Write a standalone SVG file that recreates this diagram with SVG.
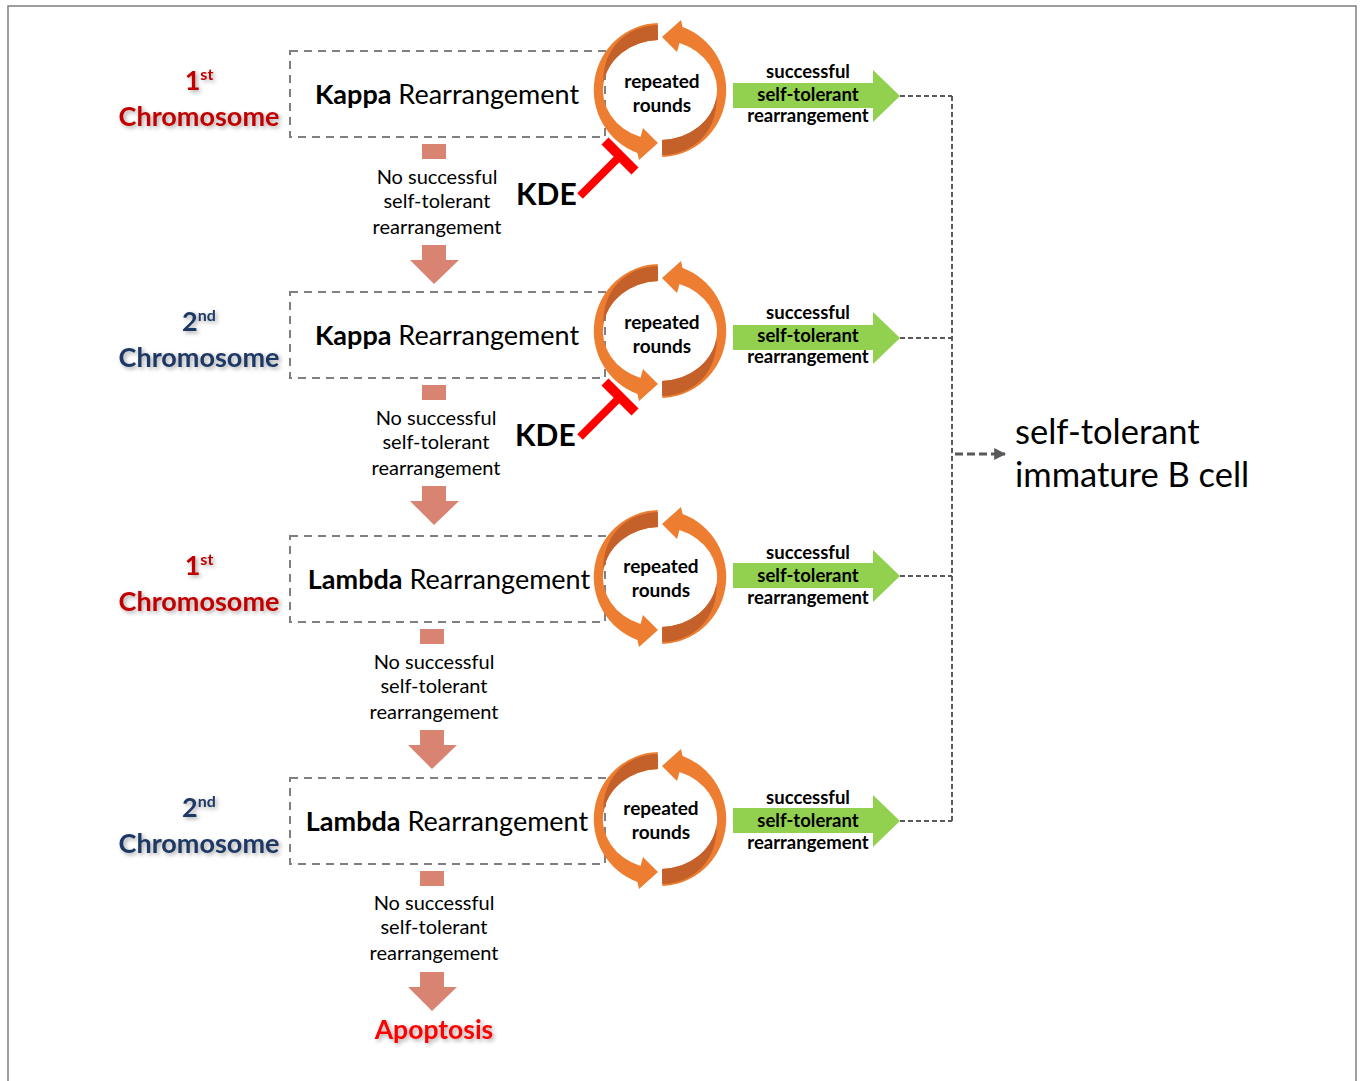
<svg xmlns="http://www.w3.org/2000/svg" xmlns:xlink="http://www.w3.org/1999/xlink" width="1360" height="1081" viewBox="0 0 1360 1081">
<style>
.box{fill:#fff;stroke:#808080;stroke-width:2;stroke-dasharray:8 6}
.chrR{font-family:Lato,"Liberation Sans",sans-serif;font-weight:bold;fill:#C00000}
.chrB{font-family:Lato,"Liberation Sans",sans-serif;font-weight:bold;fill:#1F3864}
.rear{font-family:Lato,"Liberation Sans",sans-serif;font-size:27px;fill:#000;text-anchor:middle}
.rep{font-family:Lato,"Liberation Sans",sans-serif;font-weight:bold;font-size:19px;fill:#000;text-anchor:middle}
.succ{font-family:Lato,"Liberation Sans",sans-serif;font-weight:bold;font-size:18.5px;fill:#000;text-anchor:middle}
.nos{font-family:Lato,"Liberation Sans",sans-serif;font-size:20px;fill:#000;text-anchor:middle}
.kde{font-family:Lato,"Liberation Sans",sans-serif;font-weight:bold;font-size:30px;fill:#000}
.pink{fill:#D98473}
.green{fill:#92D050}
.dash{fill:none;stroke:#595959;stroke-width:2;stroke-dasharray:5 3}
.inh{stroke:#FF0000;fill:none}
</style>
<defs>
<filter id="sh" x="-20%" y="-20%" width="140%" height="160%">
<feDropShadow dx="2" dy="2" stdDeviation="2" flood-color="#000" flood-opacity="0.35"/>
</filter>
<g id="half">
<path fill="#ED7D31" d="M2.3,67 A66 67 0 0 0 22.6,-63 L21,-70 L2,-53 L17,-38 L19.5,-47 A57 50 0 0 1 2,50 Z"/>
<path fill="#C4602A" d="M2,50 L2.2,65 C35,64 58,40 56.6,5.9 A57 50 0 0 1 2,50 Z"/>
</g>
<g id="cyc">
<use xlink:href="#half"/>
<use xlink:href="#half" transform="rotate(180)"/>
</g>
<path id="garr" class="green" d="M-167,-13 H-27 V-26 L0,0 L-27,26 V12 H-167 Z"/>
<g id="parr">
<rect class="pink" x="-12" y="50" width="24" height="15"/>
<path class="pink" d="M-12,151 H12 V166 H25 L0,190 L-24,166 H-12 Z"/>
</g>
<marker id="ah" viewBox="0 0 10 10" refX="9" refY="5" markerWidth="4" markerHeight="4" orient="auto" markerUnits="strokeWidth">
<path d="M0,0 L10,5 L0,10 Z" fill="#595959"/>
</marker>
</defs>
<rect x="8" y="6" width="1348" height="1100" fill="#fff" stroke="#7F7F7F" stroke-width="1.5"/>

<g id="connectors">
<path class="dash" d="M900,96 H952 M900,338 H952 M900,576 H952 M900,821 H952 M952,96 V821"/>
<line x1="955" y1="454" x2="1005" y2="454" stroke="#595959" stroke-width="3" stroke-dasharray="8 4" marker-end="url(#ah)"/>
<use xlink:href="#parr" transform="translate(434,94)"/>
<use xlink:href="#parr" transform="translate(434,335)"/>
<use xlink:href="#parr" transform="translate(432,579)"/>
<use xlink:href="#parr" transform="translate(432,821)"/>
<g id="kde1-inh" class="inh">
<line x1="580" y1="196" x2="620" y2="156" stroke-width="8"/>
<line x1="605" y1="141" x2="635" y2="171" stroke-width="10"/>
</g>
<g id="kde2-inh" class="inh">
<line x1="580" y1="437" x2="620" y2="397" stroke-width="8"/>
<line x1="605" y1="382" x2="635" y2="412" stroke-width="10"/>
</g>
</g>

<!-- Row 1 -->
<g id="row1-chrom" filter="url(#sh)">
<text class="chrR" x="199" y="90" text-anchor="middle" font-size="27">1<tspan font-size="16" dy="-10">st</tspan></text>
<text class="chrR" x="199" y="126" text-anchor="middle" font-size="27">Chromosome</text>
</g>
<g id="row1-box">
<rect class="box" x="290" y="51" width="315" height="86"/>
<text class="rear" x="447" y="104"><tspan font-weight="bold">Kappa</tspan> Rearrangement</text>
</g>
<g id="row1-cycle">
<use xlink:href="#cyc" transform="translate(660,90)"/>
<text class="rep" x="662" y="88">repeated</text>
<text class="rep" x="662" y="112">rounds</text>
</g>
<g id="row1-success">
<use xlink:href="#garr" transform="translate(900,96)"/>
<text class="succ" x="808" y="78">successful</text>
<text class="succ" x="808" y="101">self-tolerant</text>
<text class="succ" x="808" y="122">rearrangement</text>
</g>
<g id="row1-fail">
<text class="nos" x="437" y="184">No successful</text>
<text class="nos" x="437" y="208">self-tolerant</text>
<text class="nos" x="437" y="234">rearrangement</text>
</g>
<g id="kde1"><text class="kde" x="516" y="205">KDE</text></g>

<!-- Row 2 -->
<g id="row2-chrom" filter="url(#sh)">
<text class="chrB" x="199" y="331" text-anchor="middle" font-size="27">2<tspan font-size="16" dy="-10">nd</tspan></text>
<text class="chrB" x="199" y="367" text-anchor="middle" font-size="27">Chromosome</text>
</g>
<g id="row2-box">
<rect class="box" x="290" y="292" width="315" height="86"/>
<text class="rear" x="447" y="345"><tspan font-weight="bold">Kappa</tspan> Rearrangement</text>
</g>
<g id="row2-cycle">
<use xlink:href="#cyc" transform="translate(660,331)"/>
<text class="rep" x="662" y="329">repeated</text>
<text class="rep" x="662" y="353">rounds</text>
</g>
<g id="row2-success">
<use xlink:href="#garr" transform="translate(900,338)"/>
<text class="succ" x="808" y="319">successful</text>
<text class="succ" x="808" y="342">self-tolerant</text>
<text class="succ" x="808" y="363">rearrangement</text>
</g>
<g id="row2-fail">
<text class="nos" x="436" y="425">No successful</text>
<text class="nos" x="436" y="449">self-tolerant</text>
<text class="nos" x="436" y="475">rearrangement</text>
</g>
<g id="kde2"><text class="kde" x="515" y="446">KDE</text></g>

<!-- Row 3 -->
<g id="row3-chrom" filter="url(#sh)">
<text class="chrR" x="199" y="575" text-anchor="middle" font-size="27">1<tspan font-size="16" dy="-10">st</tspan></text>
<text class="chrR" x="199" y="611" text-anchor="middle" font-size="27">Chromosome</text>
</g>
<g id="row3-box">
<rect class="box" x="290" y="536" width="315" height="86"/>
<text class="rear" x="449" y="589"><tspan font-weight="bold">Lambda</tspan> Rearrangement</text>
</g>
<g id="row3-cycle">
<use xlink:href="#cyc" transform="translate(660,577)"/>
<text class="rep" x="661" y="573">repeated</text>
<text class="rep" x="661" y="597">rounds</text>
</g>
<g id="row3-success">
<use xlink:href="#garr" transform="translate(900,576)"/>
<text class="succ" x="808" y="559">successful</text>
<text class="succ" x="808" y="582">self-tolerant</text>
<text class="succ" x="808" y="604">rearrangement</text>
</g>
<g id="row3-fail">
<text class="nos" x="434" y="669">No successful</text>
<text class="nos" x="434" y="693">self-tolerant</text>
<text class="nos" x="434" y="719">rearrangement</text>
</g>

<!-- Row 4 -->
<g id="row4-chrom" filter="url(#sh)">
<text class="chrB" x="199" y="817" text-anchor="middle" font-size="27">2<tspan font-size="16" dy="-10">nd</tspan></text>
<text class="chrB" x="199" y="853" text-anchor="middle" font-size="27">Chromosome</text>
</g>
<g id="row4-box">
<rect class="box" x="290" y="778" width="315" height="86"/>
<text class="rear" x="447" y="831"><tspan font-weight="bold">Lambda</tspan> Rearrangement</text>
</g>
<g id="row4-cycle">
<use xlink:href="#cyc" transform="translate(660,819)"/>
<text class="rep" x="661" y="815">repeated</text>
<text class="rep" x="661" y="839">rounds</text>
</g>
<g id="row4-success">
<use xlink:href="#garr" transform="translate(900,821)"/>
<text class="succ" x="808" y="804">successful</text>
<text class="succ" x="808" y="827">self-tolerant</text>
<text class="succ" x="808" y="849">rearrangement</text>
</g>
<g id="row4-fail">
<text class="nos" x="434" y="910">No successful</text>
<text class="nos" x="434" y="934">self-tolerant</text>
<text class="nos" x="434" y="960">rearrangement</text>
</g>

<g id="apoptosis" filter="url(#sh)">
<text x="434" y="1039" text-anchor="middle" font-family="Lato,'Liberation Sans',sans-serif" font-weight="bold" font-size="26.5" fill="#FF0000">Apoptosis</text>
</g>

<g id="bcell">
<text x="1015" y="444" font-family="Lato,'Liberation Sans',sans-serif" font-size="34.5" fill="#000">self-tolerant</text>
<text x="1015" y="487" font-family="Lato,'Liberation Sans',sans-serif" font-size="34.5" fill="#000">immature B cell</text>
</g>
</svg>
